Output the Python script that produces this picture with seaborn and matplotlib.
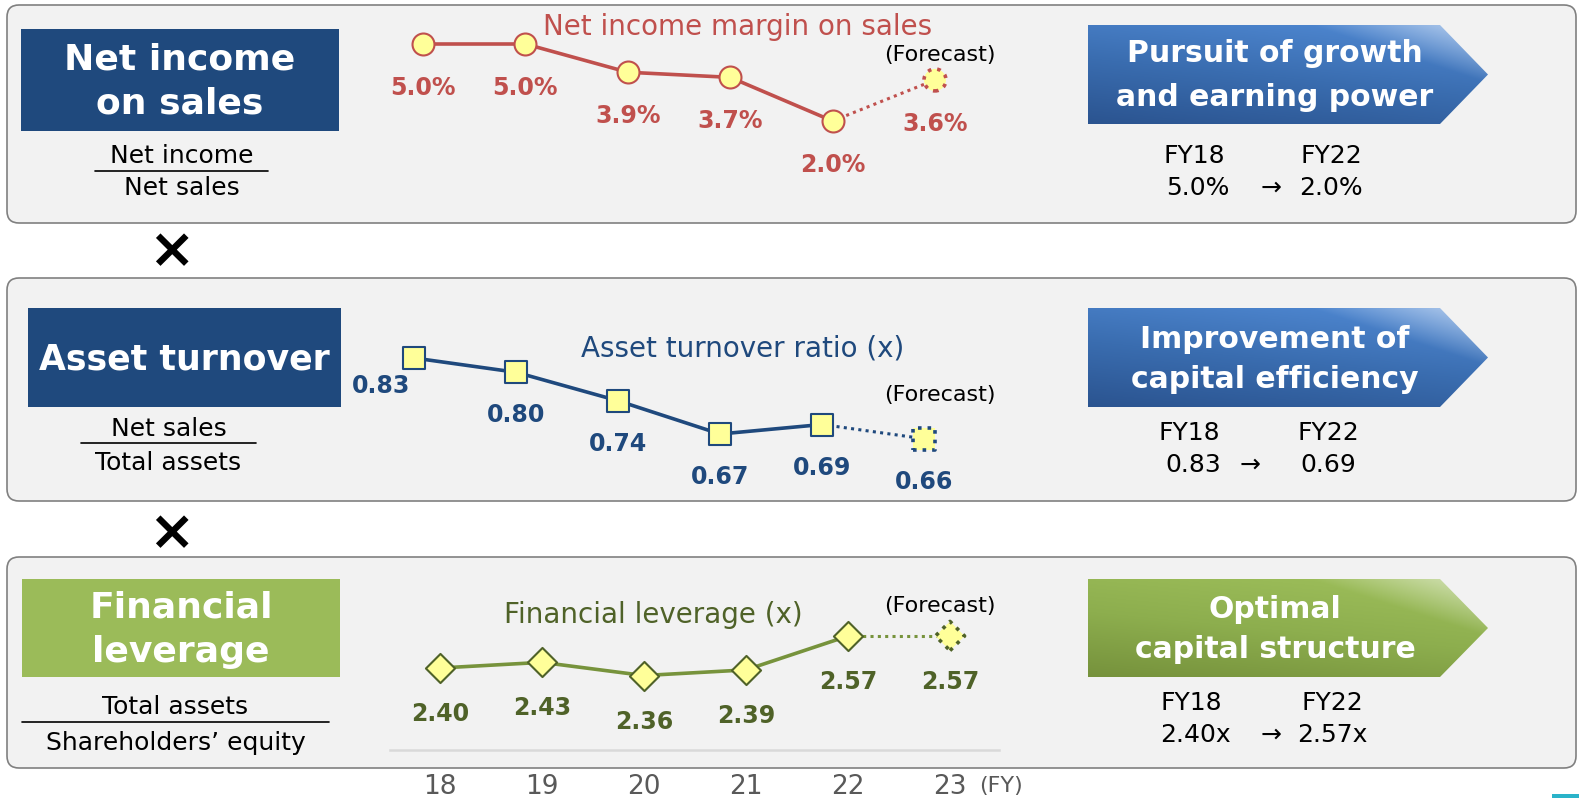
import numpy as np
import pandas as pd
import matplotlib.pyplot as plt
import seaborn as sns
from matplotlib.patches import FancyBboxPatch, Rectangle, Polygon
from matplotlib.colors import LinearSegmentedColormap, to_rgb

W, H = 1579, 798

# data
years = [18, 19, 20, 21, 22, 23]
year_labels = ["18", "19", "20", "21", "22", "23"]
margin = [5.0, 5.0, 3.9, 3.7, 2.0, 3.6]
turnover = [0.83, 0.80, 0.74, 0.67, 0.69, 0.66]
leverage = [2.40, 2.43, 2.36, 2.39, 2.57, 2.57]

margin_labels = [f"{v:.1f}%" for v in margin]
turnover_labels = [f"{v:.2f}" for v in turnover]
leverage_labels = [f"{v:.2f}" for v in leverage]

RED = "#C0504D"
BLUE = "#1F497D"
GREEN_TXT = "#4F6228"
GREEN_LINE = "#77933C"
YELLOW = "#FFFF99"

sns.set_style("white")
plt.rcParams["font.family"] = ["DejaVu Sans"]
plt.rcParams["text.color"] = "black"

fig = plt.figure(figsize=(W / 100, H / 100), dpi=100)
bg = fig.add_axes([0, 0, 1, 1])
bg.set_xlim(0, W)
bg.set_ylim(H, 0)
bg.axis("off")

# panels
for top, bottom in [(5, 223), (278, 501), (557, 768)]:
    bg.add_patch(FancyBboxPatch((7, top), 1569, bottom - top,
                                boxstyle="round,pad=0,rounding_size=12",
                                fc="#F2F2F2", ec="#808080", lw=1.2))

for y in [252, 534]:
    bg.text(171, y, "×", fontsize=40, fontweight="bold", ha="center", va="center")

bg.add_patch(Rectangle((1552, 794), 27, 4, color="#2AB3C9", lw=0))


# left label boxes and formulas
def left_block(x0, x1, y0, y1, color, lines, line_y, num, den, ny, dy, lx0, lx1, ly, tsize=26):
    bg.add_patch(Rectangle((x0, y0), x1 - x0, y1 - y0, color=color, lw=0))
    for s, y in zip(lines, line_y):
        bg.text((x0 + x1) / 2, y, s, color="white", fontsize=tsize,
                fontweight="bold", ha="center", va="center")
    cx = (lx0 + lx1) / 2
    bg.text(cx, ny, num, fontsize=18, ha="center", va="center")
    bg.text(cx, dy, den, fontsize=18, ha="center", va="center")
    bg.plot([lx0, lx1], [ly, ly], color="black", lw=1.2)


left_block(21, 339, 29, 131, BLUE, ["Net income", "on sales"], [60, 104],
           "Net income", "Net sales", 156, 188, 95, 268, 171)
left_block(28, 341, 308, 407, BLUE, ["Asset turnover"], [359],
           "Net sales", "Total assets", 429, 463, 81, 256, 443, tsize=25)
left_block(22, 340, 579, 677, "#9BBB59", ["Financial", "leverage"], [607, 652],
           "Total assets", "Shareholders’ equity", 707, 743, 22, 329, 722)


# right arrows
def arrow(y0, y1, colors, shine, lines, line_y, fy, vals, vx):
    x0, xb, xt = 1088, 1440, 1488
    ym = (y0 + y1) / 2
    poly = Polygon([(x0, y0), (xb, y0), (xt, ym), (xb, y1), (x0, y1)],
                   closed=True, fc="none", ec="none")
    bg.add_patch(poly)
    xx, yy = np.meshgrid(np.linspace(0, 1, 300), np.linspace(0, 1, 80))
    t = np.clip(0.75 * (1 - yy) + 0.3 * xx, 0, 1)
    cmap = LinearSegmentedColormap.from_list("g", colors)
    rgb = cmap(t)[..., :3]
    w = np.clip((xx * 0.8 + (1 - yy) * 0.6 - 1.05) / 0.3, 0, 1) * 0.6
    rgb = rgb * (1 - w[..., None]) + np.array(to_rgb(shine)) * w[..., None]
    im = bg.imshow(rgb, extent=(x0, xt, y1, y0), origin="upper",
                   aspect="auto", interpolation="bilinear", zorder=2)
    im.set_clip_path(poly)
    for s, y in zip(lines, line_y):
        bg.text(1275, y, s, color="white", fontsize=21.5, fontweight="bold",
                ha="center", va="center", zorder=3)
    bg.text(vx[0] - 4, fy, "FY18", fontsize=18, ha="center", va="center")
    bg.text(vx[2], fy, "FY22", fontsize=18, ha="center", va="center")
    for x, s in zip(vx, vals):
        bg.text(x, fy + 32, s, fontsize=18, ha="center", va="center")


BLUE_GRAD = ["#2B5490", "#3A6DB0", "#4F88D2"]
GREEN_GRAD = ["#76923C", "#8DAE4E", "#9DBE5A"]
arrow(25, 124, BLUE_GRAD, "#EEF3FB", ["Pursuit of growth", "and earning power"], [54, 98],
      156, ["5.0%", "→", "2.0%"], [1198, 1271, 1331])
arrow(308, 407, BLUE_GRAD, "#EEF3FB", ["Improvement of", "capital efficiency"], [339, 379],
      433, ["0.83", "→", "0.69"], [1193, 1250, 1328])
arrow(579, 677, GREEN_GRAD, "#F1F5EA", ["Optimal", "capital structure"], [610, 650],
      703, ["2.40x", "→", "2.57x"], [1195, 1271, 1332])

# chart titles
bg.text(738, 27, "Net income margin on sales", color=RED, fontsize=20, ha="center", va="center")
bg.text(743, 349, "Asset turnover ratio (x)", color=BLUE, fontsize=20, ha="center", va="center")
bg.text(653, 615, "Financial leverage (x)", color=GREEN_TXT, fontsize=20, ha="center", va="center")
for y in [55, 395, 606]:
    bg.text(940, y, "(Forecast)", fontsize=16, ha="center", va="center")


def chart_axes(top, bottom, x18, step, va_, pa, vb, pb, left=390, right=999):
    ax = fig.add_axes([left / W, 1 - bottom / H, (right - left) / W, (bottom - top) / H])
    ax.set_xlim(18 + (left - x18) / step, 18 + (right - x18) / step)
    k = (vb - va_) / (pb - pa)
    ax.set_ylim(va_ + (bottom - pa) * k, va_ + (top - pa) * k)
    ax.patch.set_alpha(0)
    return ax


def draw_series(ax, values, labels, line_c, edge_c, text_c, marker, size, offsets):
    df = pd.DataFrame({"year": years, "value": values})
    sns.lineplot(data=df.iloc[:5], x="year", y="value", ax=ax, color=line_c, lw=2.6,
                 legend=False, zorder=2)
    sns.lineplot(data=df.iloc[4:], x="year", y="value", ax=ax, color=line_c, lw=2.2,
                 linestyle=(0, (1, 1.4)), legend=False, zorder=2)
    sns.scatterplot(data=df.iloc[:5], x="year", y="value", ax=ax, marker=marker, s=size,
                    color=YELLOW, edgecolor=edge_c, linewidth=1.5, zorder=3, clip_on=False)
    sns.scatterplot(data=df.iloc[5:], x="year", y="value", ax=ax, marker=marker, s=size,
                    color=YELLOW, edgecolor=edge_c, linewidth=2.6, linestyle=":",
                    zorder=3, clip_on=False)
    for x, v, s, (dx, dy) in zip(years, values, labels, offsets):
        ax.annotate(s, (x, v), xytext=(dx * 0.72, -dy * 0.72), textcoords="offset points",
                    ha="center", va="center", fontsize=17, fontweight="bold", color=text_c)
    ax.set(xlabel="", ylabel="")


ax1 = chart_axes(15, 200, 423, 102.4, 5.0, 44, 2.0, 121)
draw_series(ax1, margin, margin_labels, RED, RED, RED, "o", 250, [(0, 44)] * 6)
ax1.set_xticks([])
ax1.set_yticks([])
sns.despine(ax=ax1, left=True, bottom=True)

ax2 = chart_axes(330, 495, 414, 102.0, 0.83, 358, 0.67, 434)
draw_series(ax2, turnover, turnover_labels, BLUE, BLUE, BLUE, "s", 240,
            [(-33, 28)] + [(0, 43)] * 5)
ax2.set_xticks([])
ax2.set_yticks([])
sns.despine(ax=ax2, left=True, bottom=True)

ax3 = chart_axes(585, 750, 440, 102.0, 2.40, 668, 2.57, 636)
draw_series(ax3, leverage, leverage_labels, GREEN_LINE, GREEN_TXT, GREEN_TXT, "D", 220,
            [(0, 46)] * 6)
ax3.set_yticks([])
ax3.set_xticks(years)
ax3.set_xticklabels(year_labels, fontsize=19, color="#595959")
ax3.tick_params(axis="x", length=0, pad=17)
sns.despine(ax=ax3, left=True)
ax3.spines["bottom"].set_color("#D9D9D9")
ax3.spines["bottom"].set_linewidth(1.8)
bg.text(1001, 786, "(FY)", fontsize=16, color="#595959", ha="center", va="center")

fig.savefig("out.png", dpi=100)
